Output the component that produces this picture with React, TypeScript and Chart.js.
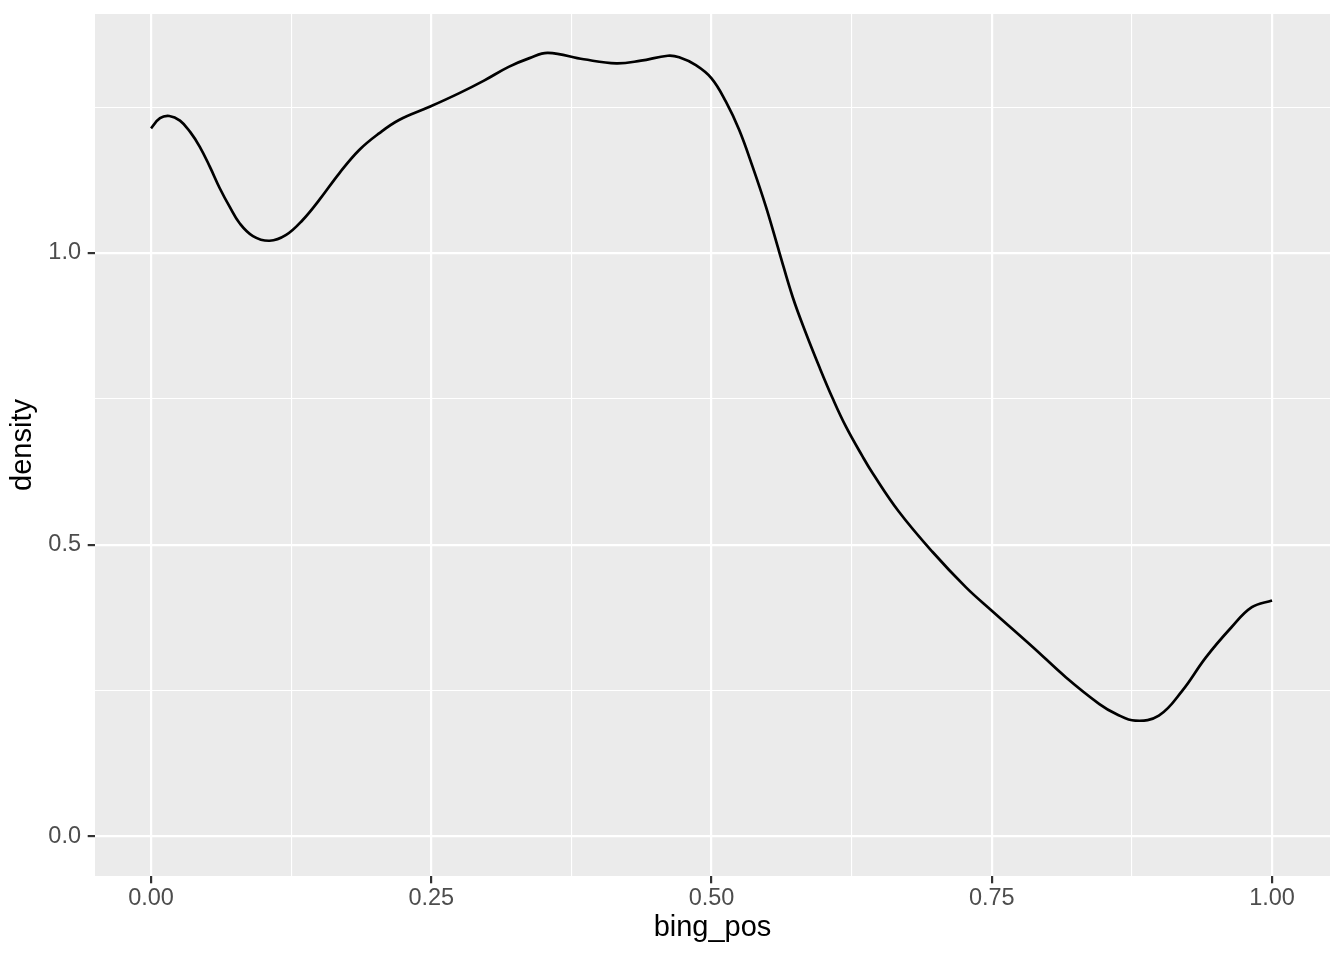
import React, { useEffect, useRef } from "react";
import { Chart, registerables } from "chart.js";

Chart.register(...registerables);

const X_VALUES = [0, 0.008, 0.0163, 0.0258, 0.0347, 0.0435, 0.0524, 0.0613, 0.0702, 0.079, 0.0909, 0.1057, 0.1205, 0.1353, 0.1501, 0.1679, 0.1857, 0.2034, 0.2212, 0.249, 0.275, 0.297, 0.319, 0.3376, 0.354, 0.386, 0.415, 0.437, 0.461, 0.4711, 0.486, 0.5, 0.5128, 0.5247, 0.5366, 0.5485, 0.5604, 0.5723, 0.5842, 0.5961, 0.608, 0.6199, 0.6348, 0.6436, 0.667, 0.697, 0.727, 0.75, 0.787, 0.816, 0.846, 0.861, 0.878, 0.899, 0.92, 0.941, 0.964, 0.982, 1.0];
const DENSITY = [1.2137, 1.231, 1.2348, 1.2268, 1.208, 1.182, 1.148, 1.111, 1.079, 1.051, 1.029, 1.021, 1.031, 1.0566, 1.091, 1.1366, 1.1765, 1.205, 1.228, 1.251, 1.274, 1.2955, 1.319, 1.334, 1.343, 1.332, 1.325, 1.3296, 1.338, 1.3354, 1.322, 1.2994, 1.2593, 1.2108, 1.148, 1.0794, 1.0017, 0.925, 0.8624, 0.805, 0.751, 0.7023, 0.651, 0.623, 0.557, 0.488, 0.427, 0.387, 0.324, 0.273, 0.227, 0.21, 0.1985, 0.207, 0.25, 0.307, 0.359, 0.393, 0.4045];

const X_MAJOR = [0, 0.25, 0.5, 0.75, 1.0];
const X_LABELS = ["0.00", "0.25", "0.50", "0.75", "1.00"];
const X_MINOR = [0.125, 0.375, 0.625, 0.875];
const Y_MAJOR = [0, 0.5, 1.0];
const Y_LABELS = ["0.0", "0.5", "1.0"];
const Y_MINOR = [0.25, 0.75, 1.25];

const X_TITLE = "bing_pos";
const Y_TITLE = "density";

const FONT = "'Liberation Sans', Arial, Helvetica, sans-serif";

function isMajor(list: number[], v: number) {
  return list.some((m) => Math.abs(m - v) < 1e-9);
}

const panelBg = {
  id: "panelBg",
  beforeDraw(chart: any) {
    const { ctx, chartArea } = chart;
    ctx.save();
    ctx.fillStyle = "#EBEBEB";
    ctx.fillRect(chartArea.left, chartArea.top, chartArea.right - chartArea.left, chartArea.bottom - chartArea.top);
    ctx.restore();
  },
};

export default function App() {
  const ref = useRef<HTMLCanvasElement | null>(null);

  useEffect(() => {
    if (!ref.current) return;
    const points = X_VALUES.map((x, i) => ({ x, y: DENSITY[i] }));
    const chart = new Chart(ref.current, {
      type: "line",
      data: {
        datasets: [
          {
            data: points,
            borderColor: "#000000",
            borderWidth: 2.7,
            pointRadius: 0,
            fill: false,
            tension: 0.4,
          },
        ],
      },
      plugins: [panelBg],
      options: {
        animation: false,
        responsive: false,
        events: [],
        layout: { padding: { top: 14, right: 14, left: 0, bottom: 0 } },
        plugins: { legend: { display: false }, tooltip: { enabled: false } },
        scales: {
          x: {
            type: "linear",
            min: -0.05,
            max: 1.0517,
            afterBuildTicks: (scale: any) => {
              scale.ticks = [...X_MAJOR, ...X_MINOR].sort((a, b) => a - b).map((v) => ({ value: v }));
            },
            afterFit: (scale: any) => {
              scale.height = 84;
              scale.paddingLeft = 0;
              scale.paddingRight = 0;
            },
            border: { display: false },
            grid: {
              color: "#FFFFFF",
              lineWidth: (c: any) => (isMajor(X_MAJOR, c.tick.value) ? 2.2 : 1.1),
              tickColor: (c: any) => (isMajor(X_MAJOR, c.tick.value) ? "#333333" : "rgba(0,0,0,0)"),
              tickWidth: 2.2,
              tickLength: 7.3,
              drawTicks: true,
            },
            ticks: {
              autoSkip: false,
              maxRotation: 0,
              minRotation: 0,
              padding: 1,
              color: "#4D4D4D",
              font: { family: FONT, size: 23.5 },
              callback: (v: any) => {
                const i = X_MAJOR.findIndex((m) => Math.abs(m - v) < 1e-9);
                return i >= 0 ? X_LABELS[i] : "";
              },
            },
            title: {
              display: true,
              text: X_TITLE,
              color: "#000000",
              font: { family: FONT, size: 29 },
              padding: { top: 0, bottom: 14.5 },
            },
          },
          y: {
            type: "linear",
            min: -0.0677,
            max: 1.4096,
            afterBuildTicks: (scale: any) => {
              scale.ticks = [...Y_MAJOR, ...Y_MINOR].sort((a, b) => a - b).map((v) => ({ value: v }));
            },
            afterFit: (scale: any) => {
              scale.width = 95;
              scale.paddingTop = 0;
              scale.paddingBottom = 0;
            },
            border: { display: false },
            grid: {
              color: "#FFFFFF",
              lineWidth: (c: any) => (isMajor(Y_MAJOR, c.tick.value) ? 2.2 : 1.1),
              tickColor: (c: any) => (isMajor(Y_MAJOR, c.tick.value) ? "#333333" : "rgba(0,0,0,0)"),
              tickWidth: 2.2,
              tickLength: 7.3,
              drawTicks: true,
            },
            ticks: {
              autoSkip: false,
              padding: 6.7,
              color: "#4D4D4D",
              font: { family: FONT, size: 23.5 },
              callback: (v: any) => {
                const i = Y_MAJOR.findIndex((m) => Math.abs(m - v) < 1e-9);
                return i >= 0 ? Y_LABELS[i] : "";
              },
            },
            title: {
              display: true,
              text: Y_TITLE,
              color: "#000000",
              font: { family: FONT, size: 29 },
              padding: { top: 6, bottom: 0 },
            },
          },
        },
      },
    } as any);
    return () => chart.destroy();
  }, []);

  return (
    <div style={{ position: "absolute", left: 0, top: 0, width: 1344, height: 960, background: "#FFFFFF" }}>
      <canvas ref={ref} width={1344} height={960} style={{ width: 1344, height: 960, display: "block" }} />
    </div>
  );
}
